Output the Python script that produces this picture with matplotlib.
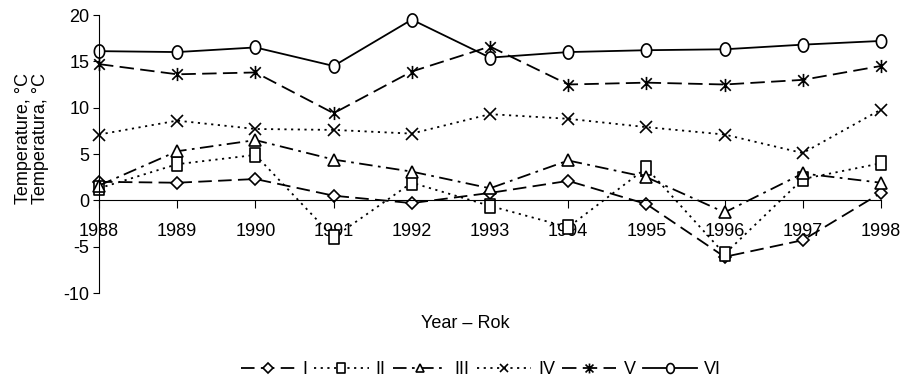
import matplotlib
matplotlib.use('Agg')
import matplotlib.pyplot as plt
import numpy as np
from matplotlib.path import Path

plt.rcParams['font.family'] = ['Liberation Sans', 'DejaVu Sans']
plt.rcParams['font.size'] = 13
plt.rcParams['axes.unicode_minus'] = False

years = [1988, 1989, 1990, 1991, 1992, 1993, 1994, 1995, 1996, 1997, 1998]

# odczyt z wykresu
s_I = [2.0, 1.9, 2.3, 0.5, -0.3, 0.8, 2.1, -0.4, -6.1, -4.3, 0.8]
s_II = [1.3, 3.9, 4.9, -4.0, 1.9, -0.6, -2.9, 3.5, -5.8, 2.3, 4.0]
s_III = [1.6, 5.3, 6.5, 4.4, 3.1, 1.3, 4.3, 2.5, -1.3, 2.9, 1.9]
s_IV = [7.1, 8.6, 7.7, 7.6, 7.2, 9.3, 8.8, 7.9, 7.1, 5.1, 9.8]
s_V = [14.7, 13.6, 13.8, 9.4, 13.9, 16.6, 12.5, 12.7, 12.5, 13.0, 14.5]
s_VI = [16.1, 16.0, 16.5, 14.5, 19.5, 15.4, 16.0, 16.2, 16.3, 16.8, 17.2]

# markery troche wyzsze niz szersze, jak w excelu
rect = Path([(-0.75, -1), (0.75, -1), (0.75, 1), (-0.75, 1), (-0.75, -1)],
            [Path.MOVETO, Path.LINETO, Path.LINETO, Path.LINETO, Path.CLOSEPOLY])
t = np.linspace(0, 2*np.pi, 41)
ell = Path(np.column_stack([0.78*np.cos(t), np.sin(t)]), closed=True)
star = Path([(-0.8, -0.8), (0.8, 0.8), (-0.8, 0.8), (0.8, -0.8), (0, -1), (0, 1)],
            [Path.MOVETO, Path.LINETO, Path.MOVETO, Path.LINETO, Path.MOVETO, Path.LINETO])

series = [
    ('I', s_I, 'D', 6.5, (0, (7.5, 3.5))),
    ('II', s_II, rect, 10, (0, (1.2, 2.5))),
    ('III', s_III, '^', 8.5, (0, (7.5, 3, 1.5, 3))),
    ('IV', s_IV, 'x', 8, (0, (1.2, 2.5))),
    ('V', s_V, star, 9.5, (0, (8, 3.5))),
    ('VI', s_VI, ell, 9.5, '-'),
]

fig = plt.figure(figsize=(9.08, 3.87), dpi=100)
ax = fig.add_axes([99/908, 1-293/387, (881-99)/908, (293-15)/387])

for name, vals, mk, ms, ls in series:
    ax.plot(years, vals, color='black', linestyle=ls, linewidth=1.3,
            marker=mk, markersize=ms, markerfacecolor='white',
            markeredgecolor='black', markeredgewidth=1.2, label=name,
            clip_on=False)

ax.set_xlim(1988, 1998)
ax.set_ylim(-10, 20)
ax.set_xticks(years)
ax.set_yticks([-10, -5, 0, 5, 10, 15, 20])
ax.spines['top'].set_visible(False)
ax.spines['right'].set_visible(False)
ax.spines['bottom'].set_position(('data', 0))
ax.spines['bottom'].set_linewidth(0.8)
ax.spines['left'].set_linewidth(0.8)
ax.tick_params(axis='x', direction='out', length=5.5, width=0.8, pad=11)
ax.tick_params(axis='y', direction='out', length=4, width=0.8, pad=3)

fig.text(0.035, 1-138/387, 'Temperature, °C\nTemperatura, °C', rotation=90,
         ha='center', va='center', linespacing=1.0)
fig.text(465/908, 1-323/387, 'Year – Rok', ha='center', va='center')

fig.legend(loc='center', bbox_to_anchor=(481/908, 1-370/387), ncol=6,
           frameon=False, handlelength=3.0, handletextpad=0.4,
           columnspacing=0.4, numpoints=1, markerscale=0.75)

fig.savefig('out.png', dpi=100)
